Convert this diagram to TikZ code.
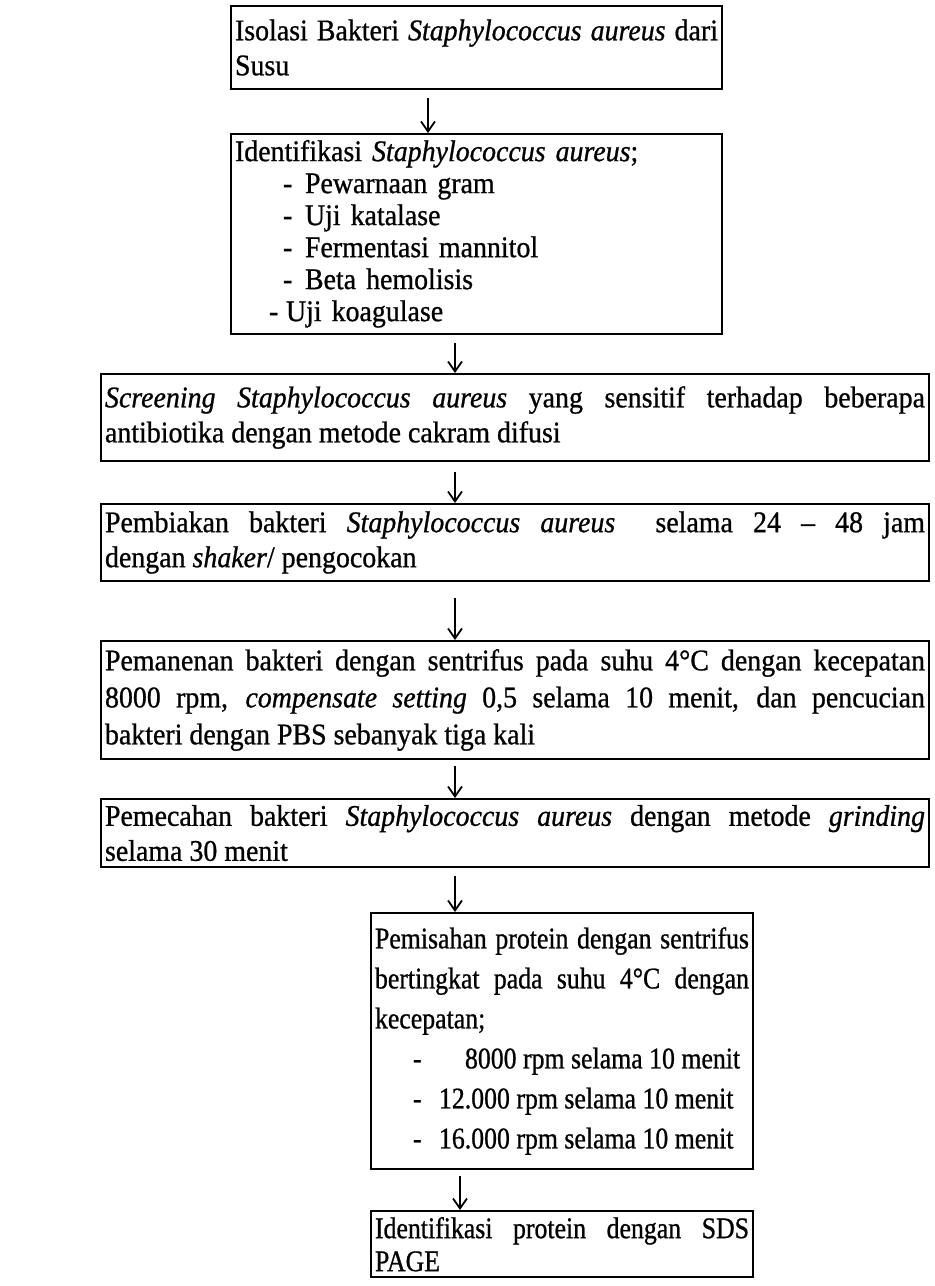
\documentclass[tikz,border=0pt]{standalone}
\usepackage{fontspec}
\setmainfont{Liberation Serif}[FakeStretch=0.93,FakeBold=0.8]
\newfontfamily\narrowface{Liberation Serif}[FakeStretch=0.86,FakeBold=0.8]
\usetikzlibrary{arrows.meta}
\newcommand{\boxfont}{\fontsize{15pt}{17.5pt}\selectfont\tolerance=9999\hbadness=10000\relax}
\newcommand{\listfont}{\fontsize{15pt}{16pt}\selectfont\hbadness=10000\relax}
\newcommand{\narrowfont}{\narrowface\fontsize{15pt}{20pt}\selectfont\tolerance=9999\hbadness=10000\relax}

\begin{document}
\begin{tikzpicture}[x=0.5pt,y=-0.5pt,
    stepbox/.style={draw,line width=1pt,anchor=north west,align=justify,
      inner xsep=2pt,inner ysep=3pt,font=\boxfont},
    flow/.style={line width=0.9pt,-{Straight Barb[length=5pt,width=7pt]}}]
  \clip (0,0) rectangle (935,1286);
  \coordinate (c1) at (428,0);
  \coordinate (c2) at (455,0);
  \coordinate (c3) at (460,0);
  \node[stepbox,text width=241.5pt,minimum height=41.5pt] (isolasi) at (230,5)
        {Isolasi Bakteri \textit{Staphylococcus aureus} dari\linebreak Susu};
  \node[stepbox,text width=241.5pt,minimum height=97pt,align=left,font=\listfont] (ident) at (230,133)
        {Identifikasi \textit{Staphylococcus aureus};\\
         \hspace*{24pt}\makebox[11pt][l]{-}Pewarnaan gram\\
         \hspace*{24pt}\makebox[11pt][l]{-}Uji katalase\\
         \hspace*{24pt}\makebox[11pt][l]{-}Fermentasi mannitol\\
         \hspace*{24pt}\makebox[11pt][l]{-}Beta hemolisis\\
         \hspace*{17pt}\makebox[8.5pt][l]{-}Uji koagulase};
  \node[stepbox,text width=410pt,minimum height=43.5pt] (screen) at (100,373)
        {\textit{Screening Staphylococcus aureus} yang sensitif terhadap beberapa\linebreak
         antibiotika dengan metode cakram difusi};
  \node[stepbox,text width=410pt,minimum height=38.5pt] (biak) at (100,503)
        {Pembiakan bakteri \textit{Staphylococcus aureus}\ \ selama 24 -- 48 jam\linebreak
         dengan \textit{shaker}/ pengocokan};
  \node[stepbox,text width=410pt,minimum height=59pt,
        font={\fontsize{15pt}{18.5pt}\selectfont\tolerance=9999\hbadness=10000}] (panen) at (100,640)
        {Pemanenan bakteri dengan sentrifus pada suhu 4°C dengan kecepatan\linebreak
         8000 rpm, \textit{compensate setting} 0,5 selama 10 menit, dan pencucian\linebreak
         bakteri dengan PBS sebanyak tiga kali};
  \node[stepbox,text width=410pt] (pecah) at (100,798)
        {Pemecahan bakteri \textit{Staphylococcus aureus} dengan metode \textit{grinding}\linebreak
         selama 30 menit};
  \node[stepbox,text width=187pt,minimum height=128pt,font=\narrowfont] (pisah) at (370,912)
        {Pemisahan protein dengan sentrifus\linebreak
         bertingkat pada suhu 4°C dengan\linebreak
         kecepatan;\\
         \hspace*{19pt}\makebox[26pt][l]{-}8000 rpm selama 10 menit\\
         \hspace*{19pt}\makebox[13pt][l]{-}12.000 rpm selama 10 menit\\
         \hspace*{19pt}\makebox[13pt][l]{-}16.000 rpm selama 10 menit};
  \node[stepbox,text width=187pt,
        font={\narrowface\fontsize{15pt}{16.5pt}\selectfont\tolerance=9999\hbadness=10000}] (sds) at (370,1210)
        {Identifikasi protein dengan SDS\linebreak PAGE};
  % panah antar tahap
  \draw[flow,shorten <=4pt] (isolasi.south -| c1) -- (ident.north -| c1);
  \draw[flow,shorten <=4pt] (ident.south -| c2) -- (screen.north -| c2);
  \draw[flow,shorten <=5pt] (screen.south -| c2) -- (biak.north -| c2);
  \draw[flow,shorten <=8pt] (biak.south -| c2) -- (panen.north -| c2);
  \draw[flow,shorten <=3pt] (panen.south -| c2) -- (pecah.north -| c2);
  \draw[flow,shorten <=4pt] (pecah.south -| c2) -- (pisah.north -| c2);
  \draw[flow,shorten <=3pt] (pisah.south -| c3) -- (sds.north -| c3);
\end{tikzpicture}
\end{document}
